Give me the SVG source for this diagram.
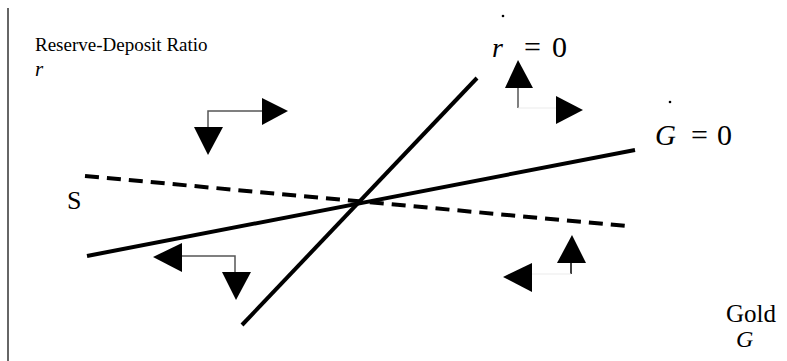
<svg xmlns="http://www.w3.org/2000/svg" width="787" height="361" viewBox="0 0 787 361">
<style>
text{font-family:'Liberation Serif','Times New Roman',serif;fill:#000}
.i{font-style:italic}
.thick{stroke:#000;stroke-width:4;fill:none}
.dash{stroke:#000;stroke-width:4;fill:none;stroke-dasharray:14 8}
.thin{stroke:#555;stroke-width:1.5;fill:none}
.faint{stroke:#ebebeb;stroke-width:1;fill:none}
.tri{fill:#000}
</style>
<rect width="787" height="361" fill="#fff"/>
<line x1="8" y1="8" x2="8" y2="361" stroke="#666" stroke-width="2"/>
<g id="axis-labels">
<text x="35" y="51" font-size="19">Reserve-Deposit Ratio</text>
<text class="i" x="35" y="76" font-size="21">r</text>
<text x="726" y="322" font-size="25">Gold</text>
<text class="i" x="736" y="347" font-size="24">G</text>
<text x="67" y="209" font-size="26">S</text>
</g>
<g id="r-dot-label">
<circle cx="503" cy="16" r="1.3" fill="#000"/>
<text class="i" x="492" y="57" font-size="28">r</text>
<text x="524" y="57" font-size="30">=</text>
<text x="552" y="57" font-size="30">0</text>
</g>
<g id="g-dot-label">
<circle cx="670" cy="102" r="1.3" fill="#000"/>
<text class="i" x="655" y="145" font-size="29">G</text>
<text x="691" y="145" font-size="30">=</text>
<text x="717" y="145" font-size="30">0</text>
</g>
<g id="connectors">
<line class="thick" x1="242" y1="325" x2="477" y2="78"/>
<line class="thick" x1="87" y1="256" x2="635" y2="150"/>
<line class="dash" x1="85" y1="176" x2="627" y2="226"/>
</g>
<g id="arrows-upper-left">
<polyline class="thin" points="208,128 208,111 262,111"/>
<polygon class="tri" points="262,98 288,111 262,125"/>
<polygon class="tri" points="194,127 223,127 208,155"/>
</g>
<g id="arrows-lower-left">
<polyline class="thin" points="182,256 235,256 235,272"/>
<polygon class="tri" points="182,243 182,272 153,257"/>
<polygon class="tri" points="222,272 251,272 236,300"/>
</g>
<g id="arrows-lower-right">
<line x1="571" y1="263" x2="571" y2="274" stroke="#000" stroke-width="1.5"/>
<line class="faint" x1="532" y1="274" x2="571" y2="274"/>
<polygon class="tri" points="557,263 586,263 572,235"/>
<polygon class="tri" points="532,263 532,292 503,277"/>
</g>
<g id="arrows-upper-right">
<line class="thin" x1="518" y1="88" x2="518" y2="108"/>
<line class="faint" x1="518" y1="108" x2="557" y2="108"/>
<polygon class="tri" points="505,88 533,88 518,60"/>
<polygon class="tri" points="556,96 556,124 583,110"/>
</g>
</svg>
